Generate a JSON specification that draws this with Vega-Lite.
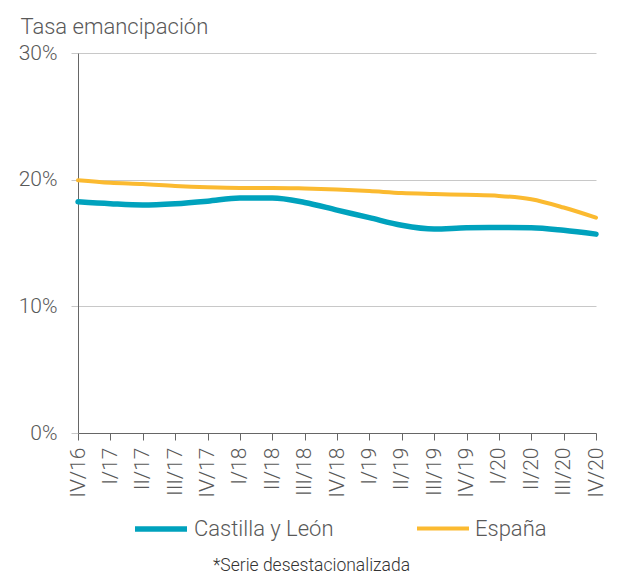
{
  "$schema": "https://vega.github.io/schema/vega-lite/v6.json",
  "width": 518,
  "height": 380,
  "autosize": {"type": "none"},
  "padding": {"left": 78, "top": 53, "right": 21, "bottom": 141},
  "background": "white",
  "config": {
    "view": {"stroke": null},
    "font": "Roboto",
    "axis": {"labelFont": "Roboto", "titleFont": "Roboto"},
    "legend": {"labelFont": "Roboto"}
  },
  "data": {
    "values": [
      {"q": "IV/16", "s": "Castilla y León", "v": 18.25},
      {"q": "I/17", "s": "Castilla y León", "v": 18.1},
      {"q": "II/17", "s": "Castilla y León", "v": 18.0},
      {"q": "III/17", "s": "Castilla y León", "v": 18.1},
      {"q": "IV/17", "s": "Castilla y León", "v": 18.3},
      {"q": "I/18", "s": "Castilla y León", "v": 18.55},
      {"q": "II/18", "s": "Castilla y León", "v": 18.55},
      {"q": "III/18", "s": "Castilla y León", "v": 18.2},
      {"q": "IV/18", "s": "Castilla y León", "v": 17.6},
      {"q": "I/19", "s": "Castilla y León", "v": 17.0},
      {"q": "II/19", "s": "Castilla y León", "v": 16.4},
      {"q": "III/19", "s": "Castilla y León", "v": 16.1},
      {"q": "IV/19", "s": "Castilla y León", "v": 16.2},
      {"q": "I/20", "s": "Castilla y León", "v": 16.22},
      {"q": "II/20", "s": "Castilla y León", "v": 16.2},
      {"q": "III/20", "s": "Castilla y León", "v": 16.0},
      {"q": "IV/20", "s": "Castilla y León", "v": 15.7},
      {"q": "IV/16", "s": "España", "v": 19.95},
      {"q": "I/17", "s": "España", "v": 19.75},
      {"q": "II/17", "s": "España", "v": 19.65},
      {"q": "III/17", "s": "España", "v": 19.5},
      {"q": "IV/17", "s": "España", "v": 19.4},
      {"q": "I/18", "s": "España", "v": 19.35},
      {"q": "II/18", "s": "España", "v": 19.35},
      {"q": "III/18", "s": "España", "v": 19.3},
      {"q": "IV/18", "s": "España", "v": 19.22},
      {"q": "I/19", "s": "España", "v": 19.1},
      {"q": "II/19", "s": "España", "v": 18.95},
      {"q": "III/19", "s": "España", "v": 18.87},
      {"q": "IV/19", "s": "España", "v": 18.8},
      {"q": "I/20", "s": "España", "v": 18.72},
      {"q": "II/20", "s": "España", "v": 18.45},
      {"q": "III/20", "s": "España", "v": 17.8},
      {"q": "IV/20", "s": "España", "v": 17.0}
    ]
  },
  "mark": {"type": "line", "interpolate": "monotone", "strokeCap": "round"},
  "encoding": {
    "x": {
      "field": "q",
      "type": "ordinal",
      "sort": null,
      "scale": {"type": "point", "padding": 0},
      "axis": {
        "title": "*Serie desestacionalizada",
        "titleFontSize": 17.5,
        "titleFontWeight": 300,
        "titleColor": "#333333",
        "titleX": 233,
        "titleY": 137,
        "titleAlign": "center",
        "titleBaseline": "alphabetic",
        "labelAngle": -90,
        "labelFontSize": 21,
        "labelFontWeight": 300,
        "labelColor": "#595959",
        "labelPadding": 7,
        "tickSize": 7,
        "tickColor": "#666666",
        "domainColor": "#666666",
        "grid": false
      }
    },
    "y": {
      "field": "v",
      "type": "quantitative",
      "scale": {"domain": [0, 30], "nice": false},
      "axis": {
        "values": [0, 10, 20, 30],
        "labelExpr": "datum.value + '%'",
        "title": "Tasa emancipación",
        "titleAngle": 0,
        "titleAlign": "left",
        "titleBaseline": "alphabetic",
        "titleX": -58,
        "titleY": -20,
        "titleFontSize": 22,
        "titleFontWeight": 300,
        "titleColor": "#595959",
        "labelFontSize": 21,
        "labelFontWeight": 300,
        "labelColor": "#595959",
        "labelPadding": 14,
        "tickSize": 7,
        "tickColor": "#c8c8c8",
        "gridColor": "#c8c8c8",
        "gridWidth": 1,
        "domainColor": "#666666"
      }
    },
    "color": {
      "field": "s",
      "type": "nominal",
      "scale": {"domain": ["Castilla y León", "España"], "range": ["#00A2BD", "#FBBA30"]},
      "legend": {
        "title": null,
        "orient": "none",
        "legendX": 54,
        "legendY": 447,
        "direction": "horizontal",
        "symbolType": "stroke",
        "symbolSize": 2704,
        "symbolStrokeWidth": 5,
        "labelFontSize": 22,
        "labelFontWeight": 300,
        "labelColor": "#595959",
        "labelOffset": 4,
        "columnPadding": 75,
        "labelLimit": 300
      }
    },
    "strokeWidth": {
      "field": "s",
      "type": "nominal",
      "scale": {"domain": ["Castilla y León", "España"], "range": [5.5, 4]},
      "legend": null
    }
  }
}
